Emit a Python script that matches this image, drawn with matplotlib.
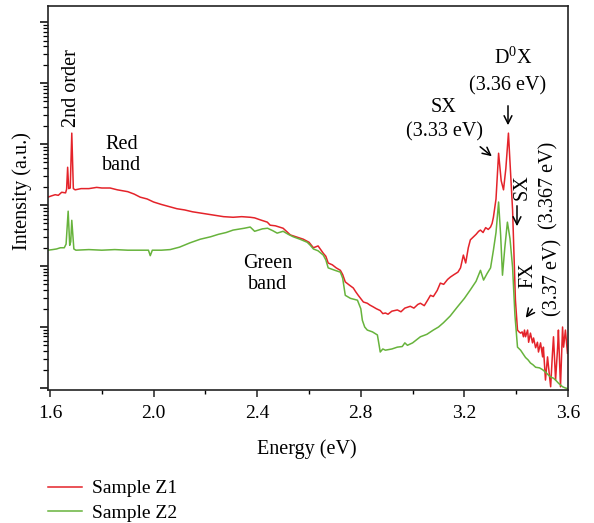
import numpy as np
import matplotlib
matplotlib.use("Agg")
import matplotlib.pyplot as plt

plt.rcParams['font.family'] = ['Liberation Serif', 'DejaVu Serif']
plt.rcParams['mathtext.fontset'] = 'custom'
plt.rcParams['mathtext.rm'] = 'Liberation Serif'

# ---------------- data (energy in eV, log10 of intensity in a.u.) ----------------
red_energy = [1.592, 1.605, 1.62, 1.632, 1.645, 1.66, 1.664, 1.668, 1.672, 1.678, 1.684, 1.690, 1.697,
              1.72, 1.75, 1.78, 1.80, 1.832, 1.86, 1.90, 1.925, 1.948, 1.975, 2.00, 2.03, 2.064, 2.09,
              2.12, 2.15, 2.18, 2.21, 2.24, 2.27, 2.307, 2.34, 2.373, 2.39, 2.41, 2.439, 2.45, 2.47,
              2.50, 2.515, 2.528, 2.55, 2.578, 2.60, 2.617, 2.635, 2.655, 2.665, 2.674, 2.69, 2.705, 2.721,
              2.73, 2.740, 2.755, 2.771, 2.78, 2.79, 2.81, 2.825, 2.835, 2.848, 2.86, 2.875, 2.885, 2.895,
              2.905, 2.92, 2.941, 2.955, 2.97, 2.991, 3.005, 3.02, 3.030, 3.045, 3.058, 3.069, 3.08,
              3.095, 3.107, 3.12, 3.135, 3.146, 3.16, 3.175, 3.185, 3.196, 3.205, 3.215, 3.223, 3.235,
              3.245, 3.255, 3.262, 3.272, 3.282, 3.292, 3.301, 3.307, 3.312, 3.322, 3.332, 3.342, 3.351,
              3.360, 3.370, 3.378, 3.386, 3.392, 3.397, 3.405, 3.411, 3.417, 3.423, 3.428, 3.432, 3.436,
              3.444, 3.448, 3.455, 3.463, 3.467, 3.475, 3.482, 3.486, 3.494, 3.502, 3.505, 3.513, 3.521,
              3.525, 3.533, 3.540, 3.544, 3.552, 3.560, 3.563, 3.571, 3.579, 3.583, 3.590, 3.598]
red_log = [3.13, 3.15, 3.17, 3.16, 3.21, 3.20, 3.26, 3.62, 3.27, 3.28, 4.18, 3.27, 3.25,
           3.27, 3.27, 3.29, 3.28, 3.28, 3.25, 3.22, 3.18, 3.13, 3.10, 3.05, 3.01, 2.97, 2.94,
           2.92, 2.89, 2.87, 2.85, 2.83, 2.81, 2.80, 2.81, 2.80, 2.79, 2.76, 2.72, 2.67, 2.66,
           2.62, 2.56, 2.51, 2.48, 2.44, 2.39, 2.30, 2.33, 2.21, 2.16, 2.05, 2.02, 1.97, 1.93,
           1.86, 1.74, 1.69, 1.64, 1.58, 1.52, 1.41, 1.39, 1.36, 1.33, 1.30, 1.27, 1.22, 1.23,
           1.21, 1.26, 1.28, 1.25, 1.31, 1.34, 1.31, 1.37, 1.39, 1.35, 1.44, 1.52, 1.50,
           1.60, 1.72, 1.70, 1.78, 1.82, 1.86, 1.90, 1.97, 2.18, 2.05, 2.30, 2.43, 2.48,
           2.52, 2.57, 2.59, 2.55, 2.63, 2.60, 2.64, 2.70, 2.80, 3.10, 3.85, 3.40, 3.25,
           3.60, 4.18, 3.55, 2.92, 2.10, 1.44, 0.95, 0.92, 0.90, 0.92, 0.84, 0.95, 0.84,
           0.95, 0.75, 0.90, 0.74, 0.82, 0.66, 0.75, 0.59, 0.74, 0.51, 0.67, 0.13, 0.51,
           0.34, 0.02, 0.57, 0.84, 0.13, 0.67, 0.95, 0.02, 1.00, 0.67, 0.95, 0.57]

green_energy = [1.592, 1.61, 1.625, 1.64, 1.655, 1.662, 1.670, 1.676, 1.680, 1.684, 1.692, 1.70,
                1.75, 1.80, 1.85, 1.90, 1.95, 1.98, 1.987, 1.995, 2.03, 2.064, 2.10, 2.14, 2.18,
                2.22, 2.25, 2.28, 2.307, 2.35, 2.373, 2.39, 2.42, 2.44, 2.46, 2.477, 2.50, 2.52,
                2.539, 2.565, 2.593, 2.605, 2.617, 2.635, 2.655, 2.665, 2.674, 2.70, 2.721, 2.73,
                2.740, 2.76, 2.787, 2.80, 2.806, 2.815, 2.825, 2.845, 2.864, 2.87, 2.875, 2.885,
                2.895, 2.92, 2.941, 2.96, 2.970, 2.980, 3.00, 3.030, 3.055, 3.080, 3.10, 3.119,
                3.145, 3.173, 3.20, 3.223, 3.245, 3.262, 3.274, 3.288, 3.301, 3.312, 3.322, 3.332,
                3.340, 3.347, 3.356, 3.366, 3.376, 3.386, 3.395, 3.405, 3.417, 3.428, 3.436, 3.446,
                3.455, 3.465, 3.475, 3.490, 3.502, 3.513, 3.525, 3.533, 3.544, 3.552, 3.563, 3.571,
                3.579, 3.590, 3.598]
green_log = [2.26, 2.27, 2.28, 2.30, 2.30, 2.36, 2.90, 2.34, 2.40, 2.75, 2.28, 2.26,
             2.27, 2.26, 2.27, 2.26, 2.26, 2.26, 2.17, 2.26, 2.26, 2.27, 2.31, 2.38, 2.44,
             2.48, 2.52, 2.55, 2.59, 2.62, 2.64, 2.57, 2.61, 2.62, 2.58, 2.54, 2.57, 2.52,
             2.48, 2.44, 2.39, 2.34, 2.28, 2.25, 2.18, 2.10, 1.97, 1.93, 1.90, 1.80,
             1.52, 1.47, 1.44, 1.30, 1.11, 1.00, 0.95, 0.92, 0.87, 0.72, 0.59, 0.64,
             0.62, 0.64, 0.67, 0.68, 0.74, 0.70, 0.74, 0.84, 0.88, 0.95, 1.00, 1.07,
             1.18, 1.33, 1.47, 1.61, 1.75, 1.93, 1.77, 1.88, 1.97, 2.26, 2.55, 3.05,
             2.50, 1.85, 2.30, 2.72, 2.45, 1.98, 1.20, 0.67, 0.62, 0.55, 0.50, 0.46,
             0.41, 0.38, 0.34, 0.33, 0.30, 0.26, 0.21, 0.18, 0.16, 0.13, 0.08, 0.05,
             0.02, 0.00, -0.01]

series_labels = ["Sample Z1", "Sample Z2"]
x_ticks = [1.6, 2.0, 2.4, 2.8, 3.2, 3.6]
x_tick_labels = ["1.6", "2.0", "2.4", "2.8", "3.2", "3.6"]

RED = "#e4232a"
GREEN = "#67b33c"

# ---------------- figure ----------------
W, H = 594, 523
fig = plt.figure(figsize=(W / 100, H / 100), dpi=100)
L, R, T, B = 47.7, 568.0, 5.7, 390.0
ax = fig.add_axes([L / W, 1 - B / H, (R - L) / W, (B - T) / H])

ax.plot(red_energy, 10 ** np.array(red_log), color=RED, lw=1.1, label=series_labels[0])
ax.plot(green_energy, 10 ** np.array(green_log), color=GREEN, lw=1.1, label=series_labels[1])

ax.set_yscale('log')
ax.set_ylim(10 ** -0.033, 10 ** 6.27)
ax.set_xlim(1.591, 3.6)
ax.set_xticks(x_ticks)
ax.set_xticklabels(x_tick_labels)
ax.set_xticks([1.8, 2.2, 2.6, 3.0, 3.4], minor=True)
ax.yaxis.set_major_locator(matplotlib.ticker.LogLocator(base=10, numticks=20))
ax.yaxis.set_minor_locator(matplotlib.ticker.LogLocator(base=10, subs=np.arange(2, 10), numticks=20))
ax.yaxis.set_major_formatter(matplotlib.ticker.NullFormatter())
ax.yaxis.set_minor_formatter(matplotlib.ticker.NullFormatter())

for s in ax.spines.values():
    s.set_linewidth(1.2)
    s.set_color("#222222")
ax.tick_params(axis='x', which='major', direction='out', length=5, width=1.1, labelsize=14, pad=6, colors="#222222")
ax.tick_params(axis='x', which='minor', direction='out', length=3, width=1.0)
ax.tick_params(axis='y', which='major', direction='out', length=6, width=1.1)
ax.tick_params(axis='y', which='minor', direction='out', length=3.5, width=0.9)
for lab in ax.get_xticklabels():
    lab.set_color("black")

fs = 14.5
ax.set_xlabel("Energy (eV)", fontsize=fs)
ax.set_ylabel("Intensity (a.u.)", fontsize=fs)
ax.xaxis.set_label_coords((307 - L) / (R - L), (B - 439) / (B - T))
ax.yaxis.set_label_coords((32 - L) / (R - L), (B - 191) / (B - T))


def P(px, py):
    return ((px - L) / (R - L), (B - py) / (B - T))


kw = dict(transform=ax.transAxes, ha='center', va='center', fontsize=fs)
ax.text(*P(72, 88), "2nd order", rotation=90, **kw)
ax.text(*P(122, 155), "Red\nband", linespacing=1.15, **kw)
ax.text(*P(268, 274), "Green\nband", linespacing=1.15, **kw)
ax.text(*P(443, 107), "SX", **kw)
ax.text(*P(444, 132), "(3.33 eV)", **kw)
ax.text(*P(513, 58), r"D$^{\mathregular{0}}$X", **kw)
ax.text(*P(508, 86), "(3.36 eV)", **kw)
ax.text(*P(522, 187), "SX", rotation=90, **kw)
ax.text(*P(549, 185), "(3.367 eV)", rotation=90, **kw)
ax.text(*P(528, 275), "FX", rotation=90, **kw)
ax.text(*P(553, 277), "(3.37 eV)", rotation=90, **kw)

arrow = dict(arrowstyle='->', color='black', lw=1.1, mutation_scale=14)
ax.annotate("", xy=P(508, 128), xytext=P(508, 103), xycoords='axes fraction', textcoords='axes fraction', arrowprops=arrow)
ax.annotate("", xy=P(494, 158), xytext=P(478, 145), xycoords='axes fraction', textcoords='axes fraction', arrowprops=arrow)
ax.annotate("", xy=P(517, 229), xytext=P(517, 203), xycoords='axes fraction', textcoords='axes fraction', arrowprops=arrow)
ax.annotate("", xy=P(524, 320), xytext=P(534, 307), xycoords='axes fraction', textcoords='axes fraction', arrowprops=arrow)

fig.legend(loc='upper left', bbox_to_anchor=(40 / W, 1 - 472 / H), frameon=False, fontsize=14,
           handlelength=1.75, handletextpad=0.5, labelspacing=0.35, borderaxespad=0)

fig.savefig("out.png", dpi=100)
